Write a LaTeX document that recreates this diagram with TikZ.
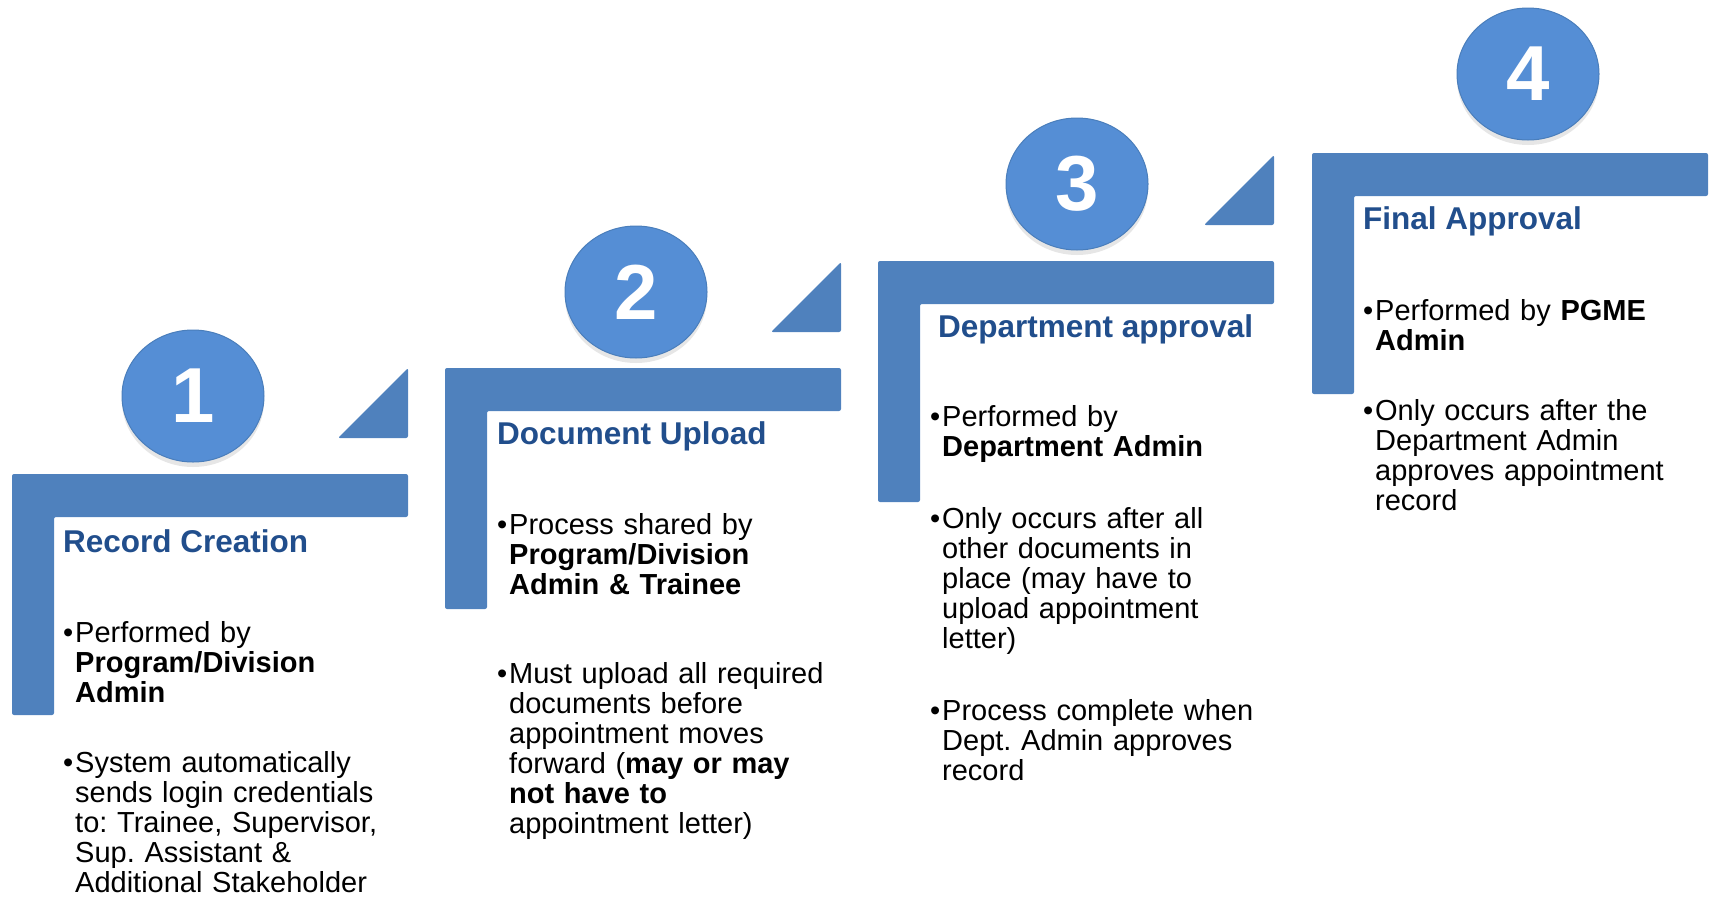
\documentclass[tikz,border=0pt]{standalone}
\usepackage{fontspec}
\setmainfont{Liberation Sans}
\usetikzlibrary{shapes.geometric,shadows,positioning}
\frenchspacing

\definecolor{barblue}{HTML}{4F81BD}
\definecolor{ballblue}{HTML}{558ED5}
\definecolor{ballrim}{HTML}{4A7EBB}
\definecolor{headblue}{RGB}{33,78,140}

\newcommand{\bul}{\leavevmode\llap{\textbullet\hspace{2pt}}}

\begin{document}
\begin{tikzpicture}[
  x=1pt, y=-1pt,
  bar/.style={fill=barblue, rounded corners=2pt},
  ball/.style={ellipse, draw=ballrim, line width=1pt, fill=ballblue, minimum width=142pt, minimum height=132pt, inner sep=0pt, text=white, font=\fontsize{78}{80}\selectfont\bfseries, drop shadow={shadow xshift=0pt, shadow yshift=-5pt, opacity=0.2}},
  head/.style={anchor=base west, inner sep=0pt, text=headblue, font=\fontsize{31.5}{34}\selectfont\bfseries},
  item/.style={anchor=base west, inner sep=0pt, text width=340pt, align=left, font=\fontsize{29}{30}\selectfont}
]
\useasboundingbox (0,0) rectangle (1716,897);

% steps
\foreach \x/\y in {12/474, 445/368, 878/261, 1312/153}{
  \fill[bar] (\x,\y) -- ++(396,0) -- ++(0,43) -- ++(-354,0) -- ++(0,198) -- ++(-42,0) -- cycle;
}
\foreach \x/\y in {12/474, 445/368, 878/261}{
  \fill[bar] (\x+326,\y-36) -- (\x+396,\y-106) -- (\x+396,\y-36) -- cycle;
}

\node[ball] (num1) at (193,396) {1};
\node[ball] (num2) at (636,292) {2};
\node[ball] (num3) at (1077,184) {3};
\node[ball] (num4) at (1528,74) {4};

\node[head] (head1) at (63,552) {Record Creation};
\node[head] (head2) at (497,444) {Document Upload};
\node[head] (head3) at (938,337) {Department approval};
\node[head] (head4) at (1363,229) {Final Approval};

\node[item] (perf1) at (75,642) {\bul Performed by\\\textbf{Program/Division}\\\textbf{Admin}};
\node[item] (mail1) at (75,772) {\bul System automatically\\sends login credentials\\to: Trainee, Supervisor,\\Sup. Assistant \&\\Additional Stakeholder};

\node[item] (share2) at (509,534) {\bul Process shared by\\\textbf{Program/Division}\\\textbf{Admin \& Trainee}};
\node[item] (upload2) at (509,683) {\bul Must upload all required\\documents before\\appointment moves\\forward (\textbf{may or may}\\\textbf{not have to}\\appointment letter)};

\node[item] (perf3) at (942,426) {\bul Performed by\\\textbf{Department Admin}};
\node[item] (only3) at (942,528) {\bul Only occurs after all\\other documents in\\place (may have to\\upload appointment\\letter)};
\node[item] (done3) at (942,720) {\bul Process complete when\\Dept. Admin approves\\record};

\node[item] (perf4) at (1375,320) {\bul Performed by \textbf{PGME}\\\textbf{Admin}};
\node[item] (only4) at (1375,420) {\bul Only occurs after the\\Department Admin\\approves appointment\\record};

\end{tikzpicture}
\end{document}
